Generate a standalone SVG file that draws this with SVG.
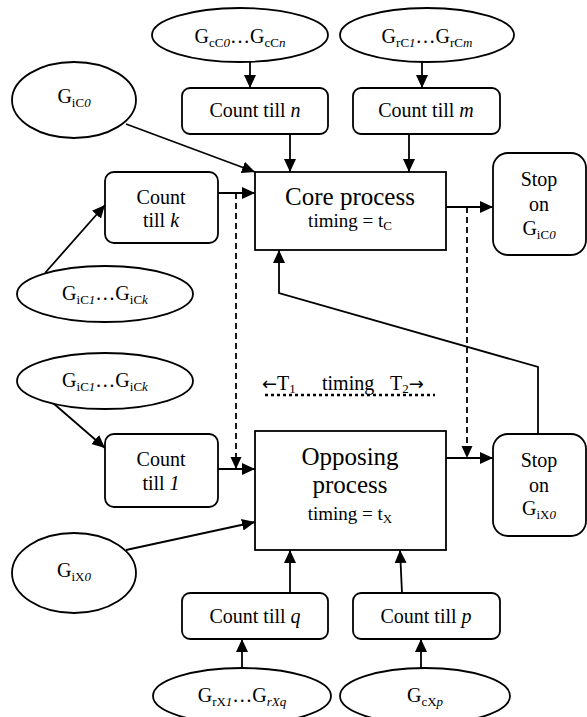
<svg xmlns="http://www.w3.org/2000/svg" width="587" height="717" viewBox="0 0 587 717" font-family="'Liberation Serif', 'Times New Roman', 'DejaVu Serif', serif">
<defs>
<marker id="ah" markerUnits="userSpaceOnUse" markerWidth="14" markerHeight="14" refX="13" refY="7" orient="auto">
<path d="M0,1 L13,7 L0,13 z" fill="#000"/>
</marker>
<marker id="ahd" markerUnits="userSpaceOnUse" markerWidth="13" markerHeight="13" refX="12" refY="6.5" orient="auto">
<path d="M0,1 L12,6.5 L0,12 z" fill="#000"/>
</marker>
</defs>
<style>
.n{fill:#fff;stroke:#000;stroke-width:1.8}
text{font-family:'Liberation Serif','Times New Roman','DejaVu Serif',serif;fill:#000}
.t{font-size:20px;text-anchor:middle}
.big{font-size:25px;text-anchor:middle}
.tm{font-size:19px;text-anchor:middle}
.s{font-size:13px}
.i{font-style:italic}
.c{fill:none;stroke:#000;stroke-width:1.8;marker-end:url(#ah)}
.d{fill:none;stroke:#000;stroke-width:1.8;stroke-dasharray:6,4;marker-end:url(#ahd)}
</style>
<rect width="587" height="717" fill="#fff"/>
<g id="connectors">
<line class="c" x1="250" y1="62" x2="250" y2="88"/>
<line class="c" x1="422" y1="62" x2="422" y2="88"/>
<line class="c" x1="290" y1="134" x2="290" y2="172"/>
<line class="c" x1="409" y1="134" x2="409" y2="172"/>
<line class="c" x1="126" y1="124" x2="255" y2="172"/>
<line class="c" x1="218" y1="193" x2="255" y2="193"/>
<line class="c" x1="45" y1="273" x2="105" y2="205"/>
<line class="c" x1="446" y1="207" x2="493" y2="207"/>
<line class="d" x1="236" y1="193" x2="236" y2="469"/>
<line class="d" x1="467" y1="207" x2="467" y2="458"/>
<line class="c" x1="53" y1="403" x2="105" y2="448"/>
<line class="c" x1="218" y1="469" x2="255" y2="469"/>
<line class="c" x1="126" y1="550" x2="255" y2="522"/>
<line class="c" x1="446" y1="458" x2="493" y2="458"/>
<line class="c" x1="290" y1="593" x2="290" y2="550"/>
<line class="c" x1="402" y1="593" x2="400" y2="550"/>
<line class="c" x1="242" y1="668" x2="242" y2="639"/>
<line class="c" x1="421" y1="668" x2="421" y2="639"/>
<polyline class="c" points="538,434 538,367 279,293 279,250"/>
</g>
<g id="GcC">
<ellipse class="n" cx="240" cy="35" rx="88" ry="27"/>
<text class="t" x="240" y="43">G<tspan class="s" dy="4">cC</tspan><tspan class="s i">0</tspan><tspan dy="-4">…G</tspan><tspan class="s" dy="4">cC</tspan><tspan class="s i">n</tspan></text>
</g>
<g id="GrC">
<ellipse class="n" cx="427" cy="35" rx="87" ry="27"/>
<text class="t" x="427" y="43">G<tspan class="s" dy="4">rC</tspan><tspan class="s i">1</tspan><tspan dy="-4">…G</tspan><tspan class="s" dy="4">rC</tspan><tspan class="s i">m</tspan></text>
</g>
<g id="countN">
<rect class="n" x="182" y="88" width="146" height="46" rx="8"/>
<text class="t" x="255" y="117">Count till <tspan class="i">n</tspan></text>
</g>
<g id="countM">
<rect class="n" x="353" y="88" width="147" height="46" rx="8"/>
<text class="t" x="426" y="117">Count till <tspan class="i">m</tspan></text>
</g>
<g id="GiC0">
<ellipse class="n" cx="74" cy="100" rx="62" ry="38"/>
<text class="t" x="74" y="103">G<tspan class="s" dy="4">iC</tspan><tspan class="s i">0</tspan></text>
</g>
<g id="core">
<rect class="n" x="255" y="172" width="191" height="78"/>
<text class="big" x="350" y="205">Core process</text>
<text class="tm" x="350" y="227">timing = t<tspan class="s" dy="3">C</tspan></text>
</g>
<g id="countK">
<rect class="n" x="105" y="172" width="113" height="71" rx="9"/>
<text class="t" x="161" y="204">Count</text>
<text class="t" x="161" y="227">till <tspan class="i">k</tspan></text>
</g>
<g id="stopC">
<rect class="n" x="493" y="153" width="93" height="102" rx="15"/>
<text class="t" x="539" y="186">Stop</text>
<text class="t" x="539" y="211">on</text>
<text class="t" x="539" y="235">G<tspan class="s" dy="4">iC</tspan><tspan class="s i">0</tspan></text>
</g>
<g id="GiCk1">
<ellipse class="n" cx="105" cy="294" rx="88" ry="28"/>
<text class="t" x="105" y="300">G<tspan class="s" dy="4">iC</tspan><tspan class="s i">1</tspan><tspan dy="-4">…G</tspan><tspan class="s" dy="4">iC</tspan><tspan class="s i">k</tspan></text>
</g>
<g id="GiCk2">
<ellipse class="n" cx="105" cy="381" rx="88" ry="28"/>
<text class="t" x="105" y="387">G<tspan class="s" dy="4">iC</tspan><tspan class="s i">1</tspan><tspan dy="-4">…G</tspan><tspan class="s" dy="4">iC</tspan><tspan class="s i">k</tspan></text>
</g>
<g id="timing">
<text x="262" y="390" style="font-size:20px"><tspan style="font-family:'DejaVu Sans',sans-serif;font-size:18px">←</tspan>T<tspan class="s" dy="3">1</tspan></text>
<text x="322" y="390" style="font-size:20px">timing</text>
<text x="390" y="390" style="font-size:20px">T<tspan class="s" dy="3">2</tspan><tspan dy="-3" style="font-family:'DejaVu Sans',sans-serif;font-size:18px">→</tspan></text>
<line x1="265" y1="395" x2="435" y2="395" stroke="#000" stroke-width="2.5" stroke-dasharray="3,3"/>
</g>
<g id="count1">
<rect class="n" x="105" y="434" width="113" height="73" rx="9"/>
<text class="t" x="161" y="466">Count</text>
<text class="t" x="161" y="490">till <tspan class="i">1</tspan></text>
</g>
<g id="opposing">
<rect class="n" x="255" y="431" width="191" height="119"/>
<text class="big" x="350" y="465">Opposing</text>
<text class="big" x="350" y="493">process</text>
<text class="tm" x="350" y="520">timing = t<tspan class="s" dy="3">X</tspan></text>
</g>
<g id="stopX">
<rect class="n" x="493" y="434" width="93" height="102" rx="15"/>
<text class="t" x="539" y="467">Stop</text>
<text class="t" x="539" y="492">on</text>
<text class="t" x="539" y="515">G<tspan class="s" dy="4">iX</tspan><tspan class="s i">0</tspan></text>
</g>
<g id="GiX0">
<ellipse class="n" cx="74" cy="573" rx="62" ry="40"/>
<text class="t" x="74" y="577">G<tspan class="s" dy="4">iX</tspan><tspan class="s i">0</tspan></text>
</g>
<g id="countQ">
<rect class="n" x="182" y="593" width="146" height="46" rx="8"/>
<text class="t" x="255" y="623">Count till <tspan class="i">q</tspan></text>
</g>
<g id="countP">
<rect class="n" x="353" y="593" width="147" height="46" rx="8"/>
<text class="t" x="426" y="623">Count till <tspan class="i">p</tspan></text>
</g>
<g id="GrX">
<ellipse class="n" cx="242" cy="696" rx="89" ry="28"/>
<text class="t" x="242" y="702">G<tspan class="s" dy="4">rX</tspan><tspan class="s i">1</tspan><tspan dy="-4">…G</tspan><tspan class="s i" dy="4">rXq</tspan></text>
</g>
<g id="GcX">
<ellipse class="n" cx="425" cy="696" rx="85" ry="28"/>
<text class="t" x="425" y="702">G<tspan class="s" dy="4">cX</tspan><tspan class="s i">p</tspan></text>
</g>
</svg>
